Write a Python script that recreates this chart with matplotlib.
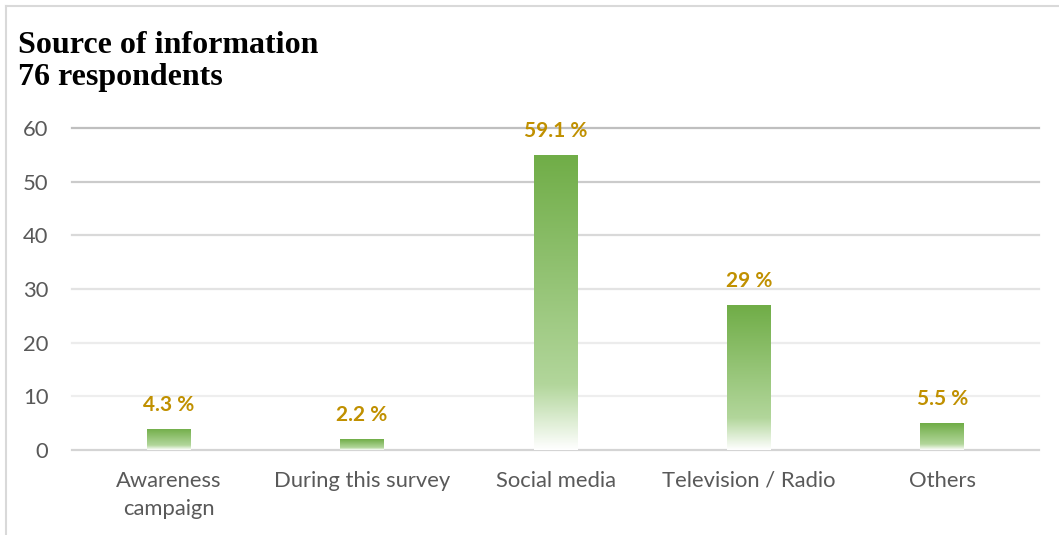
import matplotlib
matplotlib.use('Agg')
import matplotlib.pyplot as plt
from matplotlib.colors import LinearSegmentedColormap
from matplotlib.lines import Line2D
import numpy as np

# Source of information, counts per source and share labels
categories = ['Awareness\ncampaign', 'During this survey', 'Social media', 'Television / Radio', 'Others']
counts = [4, 2, 55, 27, 5]
share_labels = ['4.3 %', '2.2 %', '59.1 %', '29 %', '5.5 %']
y_ticks = [0, 10, 20, 30, 40, 50, 60]

fig = plt.figure(figsize=(10.59, 5.35), dpi=100)
fig.patch.set_facecolor('white')
W, H = 1059, 535
ax = fig.add_axes([72 / W, (H - 450) / H, (1039 - 72) / W, (450 - 128) / H])

# green fading to white towards the base of each bar
cmap = LinearSegmentedColormap.from_list(
    'fade', [(0.0, '#ffffff'), (0.22, '#b2d69b'), (1.0, '#70ad47')])
grad = np.linspace(0, 1, 256).reshape(-1, 1)

x = np.arange(len(categories))
bars = ax.bar(x, counts, width=0.227, color='none', edgecolor='none', zorder=3)
for rect in bars:
    x0 = rect.get_x()
    im = ax.imshow(grad, cmap=cmap, origin='lower', aspect='auto',
                   extent=[x0, x0 + rect.get_width(), 0, rect.get_height()], zorder=3)
    im.set_clip_path(rect)

for xi, c, lab in zip(x, counts, share_labels):
    ax.annotate(lab, (xi, c), xytext=(0, 10), textcoords='offset points',
                ha='center', va='bottom', fontsize=15, fontweight='bold',
                color='#c09000', family='Lato')

# gridlines get lighter towards the bottom
grid_colors = ['#d4d4d4', '#eeeeee', '#ececec', '#e3e3e3', '#d9d9d9', '#cbcbcb', '#bfbfbf']
for yv, gc in zip(y_ticks, grid_colors):
    ax.axhline(yv, color=gc, lw=1.6, zorder=1, clip_on=False)

ax.set_xlim(-0.5, len(categories) - 0.5)
ax.set_ylim(0, 60)
ax.set_yticks(y_ticks)
ax.set_xticks(x)
ax.set_xticklabels(categories, linespacing=1.5)
for s in ax.spines.values():
    s.set_visible(False)
ax.tick_params(axis='both', length=0, labelsize=15.8, labelcolor='#595959')
ax.tick_params(axis='y', pad=17)
ax.tick_params(axis='x', pad=15)
for t in ax.get_xticklabels() + ax.get_yticklabels():
    t.set_family('Lato')
ax.set_facecolor('none')

fig.text(18 / W, 1 - 31 / H, 'Source of information\n76 respondents', ha='left', va='top',
         fontsize=23, fontweight='bold', family='Liberation Serif', linespacing=1.13)

# outer chart frame (top and left edges)
fig.add_artist(Line2D([6 / W, 1], [1 - 6 / H, 1 - 6 / H], color='#d9d9d9', lw=1.5))
fig.add_artist(Line2D([6 / W, 6 / W], [0, 1 - 6 / H], color='#d9d9d9', lw=1.5))

fig.savefig('out.png', dpi=100)
